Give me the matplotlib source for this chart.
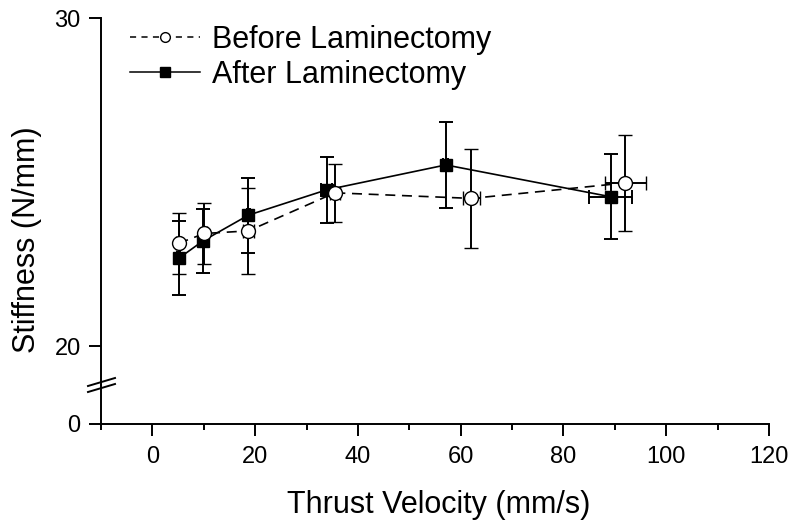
import matplotlib
matplotlib.use('Agg')
import matplotlib.pyplot as plt
from matplotlib.lines import Line2D

#-----------------------------------------------------------------------------
## Data
#-----------------------------------------------------------------------------
vel_before = [5.1, 10.1, 18.7, 35.5, 62.1, 92.0]
stiff_before = [23.13, 23.43, 23.51, 24.67, 24.50, 24.97]
yerr_before = [0.92, 0.92, 1.31, 0.88, 1.50, 1.45]
xerr_before = [0.5, 0.5, 1.0, 1.0, 1.6, 4.0]

vel_after = [5.1, 9.9, 18.7, 33.9, 57.1, 89.2]
stiff_after = [22.67, 23.21, 23.99, 24.76, 25.52, 24.55]
yerr_after = [1.13, 0.98, 1.14, 1.00, 1.31, 1.29]
xerr_after = [0.3, 0.3, 0.3, 1.0, 0.5, 4.2]

xticks = [0, 20, 40, 60, 80, 100, 120]
yticks_top = [20, 30]

#-----------------------------------------------------------------------------
## Figure settings
#-----------------------------------------------------------------------------
plt.rcParams['font.family'] = ['Liberation Sans', 'DejaVu Sans']
lw = 1.4
fig = plt.figure(figsize=(8, 5.26), dpi=100)
left, width = 101/800., 668/800.
ax = fig.add_axes([left, (526-385)/526., width, 367/526.])
axb = fig.add_axes([left, (526-424)/526., width, 39/526.])

for a in (ax, axb):
    a.set_xlim(-10, 120)
    a.spines['top'].set_visible(False)
    a.spines['right'].set_visible(False)
    a.spines['left'].set_linewidth(lw)
    a.spines['bottom'].set_linewidth(lw)
    a.patch.set_alpha(0)
    a.tick_params(axis='both', which='major', direction='out', length=8.6, width=lw, labelsize=17)
    a.tick_params(axis='both', which='minor', direction='out', length=4.3, width=lw)
    a.tick_params(axis='x', pad=7)
    a.tick_params(axis='y', pad=6)

ax.set_ylim(30 - 367/32.8, 30)
ax.set_yticks(yticks_top)
ax.spines['bottom'].set_visible(False)
ax.tick_params(axis='x', which='both', bottom=False, labelbottom=False)

axb.set_ylim(0, 39/32.8)
axb.set_yticks([0])
axb.set_xticks(xticks)
axb.set_xticks(range(-10, 121, 10), minor=True)

#-----------------------------------------------------------------------------
## Plotting data
#-----------------------------------------------------------------------------
eb = dict(ecolor='black', elinewidth=lw, capsize=4.7, capthick=lw, color='black', lw=1.2)
ax.errorbar(vel_after, stiff_after, yerr=yerr_after, xerr=xerr_after, fmt='-s',
            ms=9, mfc='black', mec='black', **eb)
ax.errorbar(vel_before, stiff_before, yerr=yerr_before, xerr=xerr_before, fmt='--o',
            ms=10, mfc='white', mec='black', mew=1.0, dashes=(6, 4), **eb)

h1 = Line2D([], [], color='black', lw=1.1, dashes=(4, 3.5), marker='o', ms=7, mfc='white', mec='black', mew=1.0)
h2 = Line2D([], [], color='black', lw=1.1, marker='s', ms=6.5, mfc='black', mec='black')
ax.legend([h1, h2], ['Before Laminectomy', 'After Laminectomy'], loc='upper left',
          bbox_to_anchor=(0.043, 0.981), frameon=False, fontsize=22, handlelength=2.3,
          handletextpad=0.4, labelspacing=0.17, borderpad=0, borderaxespad=0)

#-----------------------------------------------------------------------------
## Axis labels and break marks
#-----------------------------------------------------------------------------
axb.set_xlabel('Thrust Velocity (mm/s)', fontsize=22)
axb.xaxis.set_label_coords(0.505, -1.68)
ax.set_ylabel('Stiffness (N/mm)', fontsize=22)
ax.yaxis.set_label_coords(-0.089, 0.395)

for dy in (-3, 3):
    y0 = (526 - 385 - dy) / 526.
    fig.add_artist(Line2D([88/800., 115/800.], [y0 - 4/526., y0 + 4/526.],
                          color='black', lw=lw, transform=fig.transFigure))

fig.savefig('out.png', dpi=100, facecolor='w')
